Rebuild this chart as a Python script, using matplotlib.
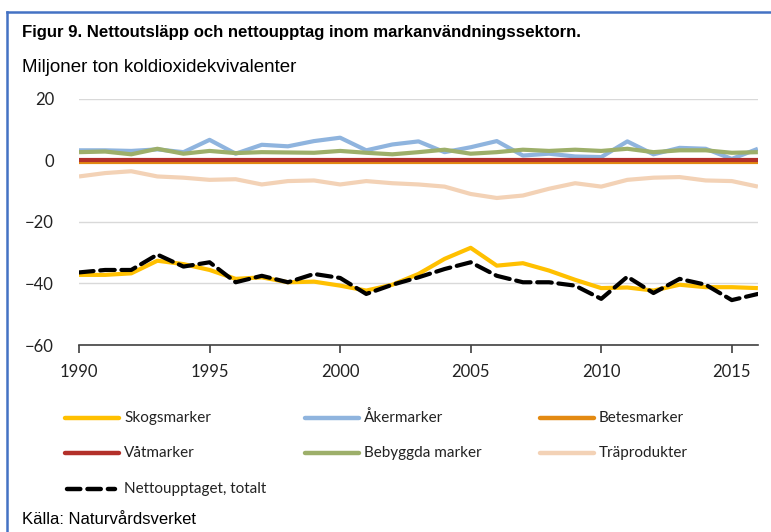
import matplotlib.pyplot as plt
from matplotlib.lines import Line2D

years = list(range(1990, 2017))

skogsmarker = [-37.2, -37.2, -36.7, -32.6, -33.7, -35.6, -38.5, -38.0, -39.6, -39.4,
               -40.7, -42.3, -40.4, -36.9, -32.0, -28.4, -34.2, -33.4, -35.8, -38.8,
               -41.5, -41.3, -42.3, -40.4, -41.2, -41.2, -41.5]
akermarker = [3.3, 3.3, 3.1, 3.6, 2.7, 6.7, 2.2, 5.1, 4.6, 6.3,
              7.4, 3.3, 5.2, 6.2, 2.7, 4.3, 6.3, 1.6, 2.2, 1.3,
              1.1, 6.2, 2.0, 4.1, 3.8, 0.5, 3.8]
betesmarker = [-0.4, -0.4, -0.4, -0.4, -0.4, -0.4, -0.4, -0.4, -0.4, -0.4,
               -0.4, -0.4, -0.4, -0.4, -0.4, -0.4, -0.4, -0.4, -0.4, -0.4,
               -0.4, -0.4, -0.4, -0.4, -0.4, -0.4, -0.4]
vatmarker = [0.3, 0.3, 0.3, 0.3, 0.3, 0.3, 0.3, 0.3, 0.3, 0.3,
             0.3, 0.3, 0.3, 0.3, 0.3, 0.3, 0.3, 0.3, 0.3, 0.3,
             0.3, 0.3, 0.3, 0.3, 0.3, 0.3, 0.3]
bebyggda = [2.7, 2.9, 2.0, 3.8, 2.2, 3.1, 2.4, 2.7, 2.6, 2.5,
            3.1, 2.5, 2.0, 2.7, 3.5, 2.2, 2.7, 3.5, 3.1, 3.5,
            3.1, 3.8, 2.7, 3.3, 3.3, 2.5, 2.7]
traprodukter = [-5.2, -4.1, -3.5, -5.2, -5.6, -6.3, -6.1, -7.8, -6.7, -6.5,
                -7.8, -6.7, -7.4, -7.8, -8.5, -10.9, -12.2, -11.4, -9.2, -7.4,
                -8.5, -6.3, -5.6, -5.4, -6.5, -6.7, -8.5]
netto = [-36.4, -35.6, -35.6, -30.6, -34.5, -33.1, -39.6, -37.5, -39.6, -36.9,
         -38.2, -43.4, -40.4, -38.0, -35.3, -33.1, -37.5, -39.6, -39.6, -40.7,
         -45.0, -37.8, -43.1, -38.5, -40.4, -45.4, -43.4]

series = [
    ('Skogsmarker', skogsmarker, '#FFC000'),
    ('Åkermarker', akermarker, '#8FB4DE'),
    ('Betesmarker', betesmarker, '#E38A12'),
    ('Våtmarker', vatmarker, '#B3302A'),
    ('Bebyggda marker', bebyggda, '#9DAF6A'),
    ('Träprodukter', traprodukter, '#F3D2B6'),
]

narrow = ['Liberation Sans Narrow', 'Liberation Sans']

fig = plt.figure(figsize=(7.71, 5.32), dpi=100)
ax = fig.add_axes([0.1025, 0.3515, 0.8805, 0.4625])

for name, vals, col in series:
    ax.plot(years, vals, color=col, linewidth=3.0, solid_capstyle='butt')
ax.plot(years, netto, color='black', linewidth=3.0, linestyle=(0, (3.5, 1.6)),
        dash_capstyle='round')

ax.set_xlim(1990, 2016)
ax.set_ylim(-60, 20)
ax.set_yticks([-60, -40, -20, 0, 20])
ax.set_xticks(range(1990, 2016, 5))
ax.grid(True, axis='y', color='#D9D9D9', linewidth=1.0)
ax.set_axisbelow(True)
for s in ['left', 'right', 'top']:
    ax.spines[s].set_visible(False)
ax.spines['bottom'].set_color('#404040')
ax.spines['bottom'].set_linewidth(1.2)
ax.tick_params(axis='y', length=0, pad=18, labelsize=12, labelcolor='#222222')
ax.tick_params(axis='x', length=6, width=1.2, color='#404040', pad=8,
               labelsize=12, labelcolor='#222222')
for lab in ax.get_xticklabels() + ax.get_yticklabels():
    lab.set_fontfamily('Lato')

# titles
fig.text(22 / 771, 1 - 32 / 532, 'Figur 9. Nettoutsläpp och nettoupptag inom markanvändningssektorn.',
         fontsize=12.1, fontweight='bold', family=narrow, va='center')
fig.text(22 / 771, 1 - 68 / 532, 'Miljoner ton koldioxidekvivalenter',
         fontsize=13.5, family=narrow, va='center')
fig.text(22 / 771, 1 - 520 / 532, 'Källa: Naturvårdsverket',
         fontsize=12, family=narrow, va='center')

# legend, laid out row-wise like the original
entries = [(n, c, '-') for n, _, c in series] + [('Nettoupptaget, totalt', 'black', '--')]
col_x = [65, 305, 540]
row_y = [418, 453, 489]
for i, (name, col, ls) in enumerate(entries):
    x0 = col_x[i % 3]
    y0 = 1 - row_y[i // 3] / 532
    if ls == '-':
        fig.add_artist(Line2D([x0 / 771, (x0 + 54) / 771], [y0, y0], color=col,
                              linewidth=3.2, solid_capstyle='round'))
    else:
        fig.add_artist(Line2D([(x0 + 2) / 771, (x0 + 50) / 771], [y0, y0], color=col,
                              linewidth=3.2, linestyle=(0, (3.0, 1.6)), dash_capstyle='round'))
    fig.text((x0 + 59) / 771, y0, name, fontsize=11, family='Lato', va='center',
             color='#222222')

# blue frame
fig.add_artist(Line2D([7 / 771, 7 / 771], [0, 1 - 12 / 532], color='#4472C4', linewidth=1.8))
fig.add_artist(Line2D([7 / 771, 1], [1 - 12 / 532, 1 - 12 / 532], color='#4472C4', linewidth=1.8))

fig.savefig('out.png', dpi=100)
